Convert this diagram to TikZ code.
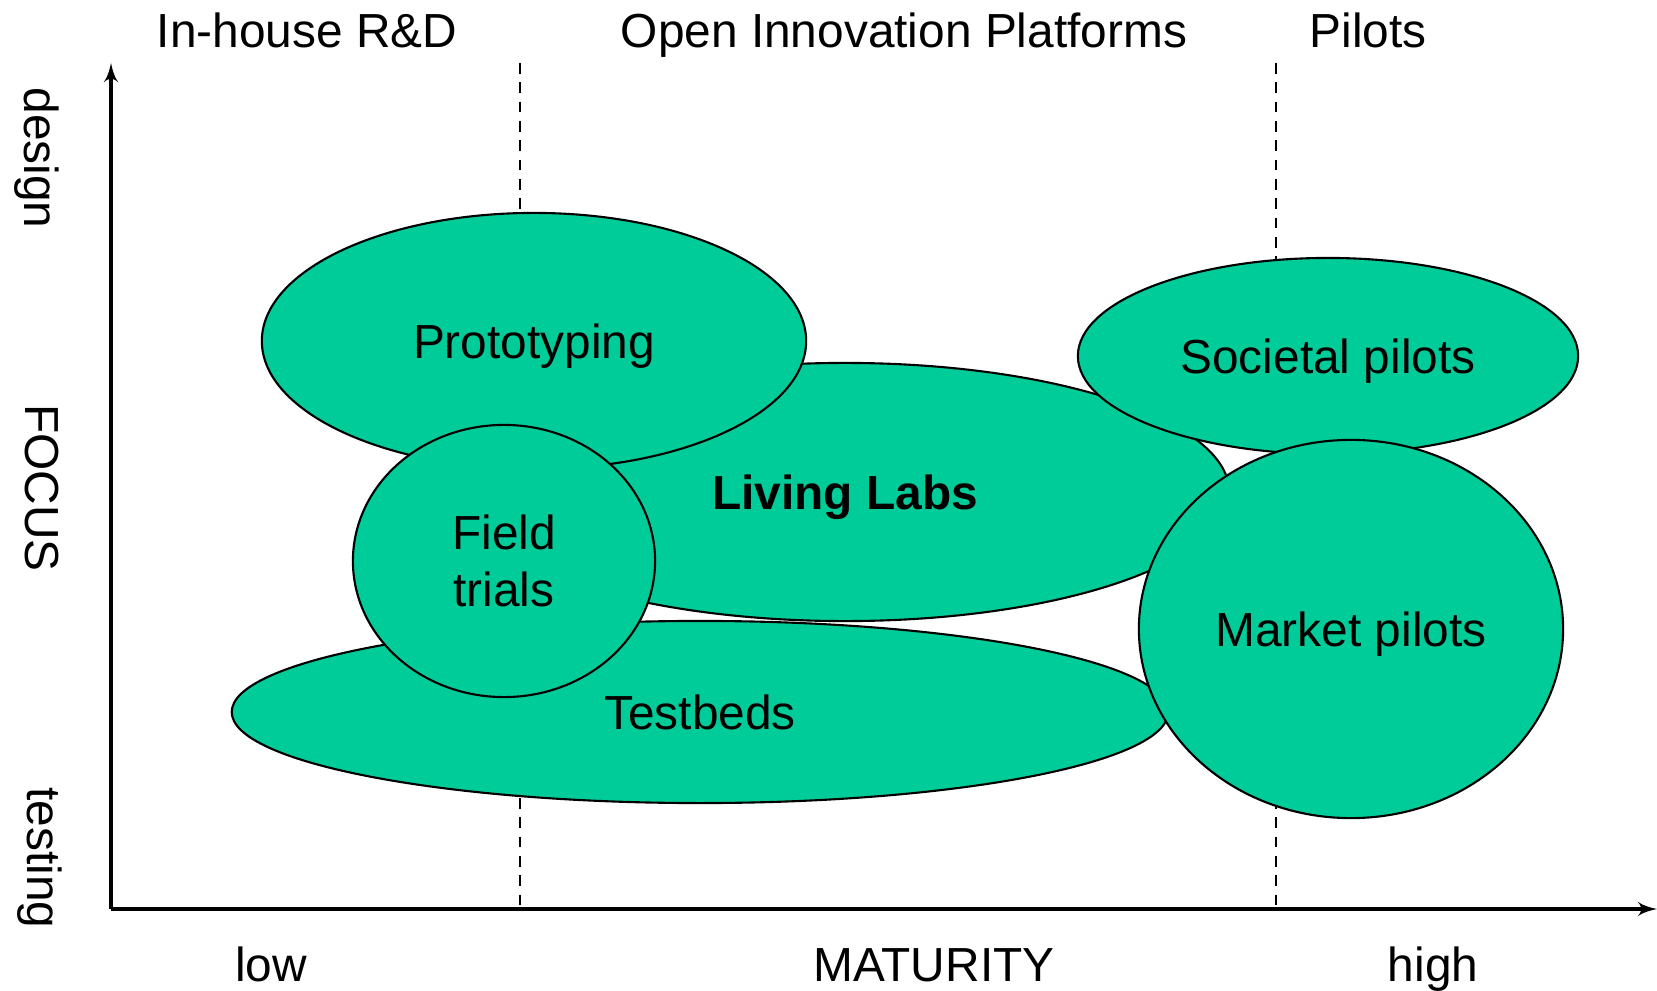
\documentclass[tikz,border=0pt]{standalone}
\usepackage{fontspec}
\setmainfont{Liberation Sans}
\usetikzlibrary{shapes,arrows,positioning}
\definecolor{labgreen}{RGB}{0,204,153}

\begin{document}
\begin{tikzpicture}[x=0.01cm,y=-0.01cm,>=latex',
  every node/.style={font=\fontsize{13.6}{16.2}\selectfont},
  area/.style={ellipse,draw,fill=labgreen,line width=0.6pt,inner sep=0pt,align=center,text depth=0pt},
  sep/.style={dash pattern=on 3pt off 2.5pt,line width=0.6pt}]
  \useasboundingbox (0,0) rectangle (1657,991);
  % axes
  \coordinate (O) at (111,909);
  \coordinate (Ytop) at (111,63);
  \coordinate (Xend) at (1657,909);
  \draw[->,line width=0.9pt] (O) -- (Ytop);
  \draw[->,line width=0.9pt] (O) -- (Xend);
  % phase borders
  \coordinate (S1) at (520,63);
  \coordinate (S2) at (1276,63);
  \draw[sep] (S1) -- (S1 |- O);
  \draw[sep] (S2) -- (S2 |- O);
  % phases
  \node[anchor=base] (rd) at (307,48) {In-house R\&D};
  \node[anchor=base] (oip) at (904,48) {Open Innovation Platforms};
  \node[anchor=base] (pil) at (1368,48) {Pilots};
  \node[anchor=base] (low) at (271,981) {low};
  \node[anchor=base] (mat) at (934,981) {MATURITY};
  \node[anchor=base] (high) at (1433,981) {high};
  \node[rotate=-90] (design) at (37,158) {design};
  \node[rotate=-90] (focus) at (42,488) {FOCUS};
  \node[rotate=-90] (testing) at (40,858) {testing};
  % areas
  \node[area,minimum width=7.68cm,minimum height=2.58cm] (living) at (845,492) {\textbf{Living Labs}};
  \node[area,minimum width=9.36cm,minimum height=1.82cm] (testbeds) at (700,712) {Testbeds};
  \node[area,minimum width=5.44cm,minimum height=2.56cm] (proto) at (534,341) {Prototyping};
  \node[area,minimum width=3.02cm,minimum height=2.72cm] (field) at (504,561) {Field\\trials};
  \node[area,minimum width=5.00cm,minimum height=1.96cm] (societal) at (1328,356) {Societal pilots};
  \node[area,minimum width=4.24cm,minimum height=3.78cm] (market) at (1351,629) {Market pilots};
\end{tikzpicture}
\end{document}
